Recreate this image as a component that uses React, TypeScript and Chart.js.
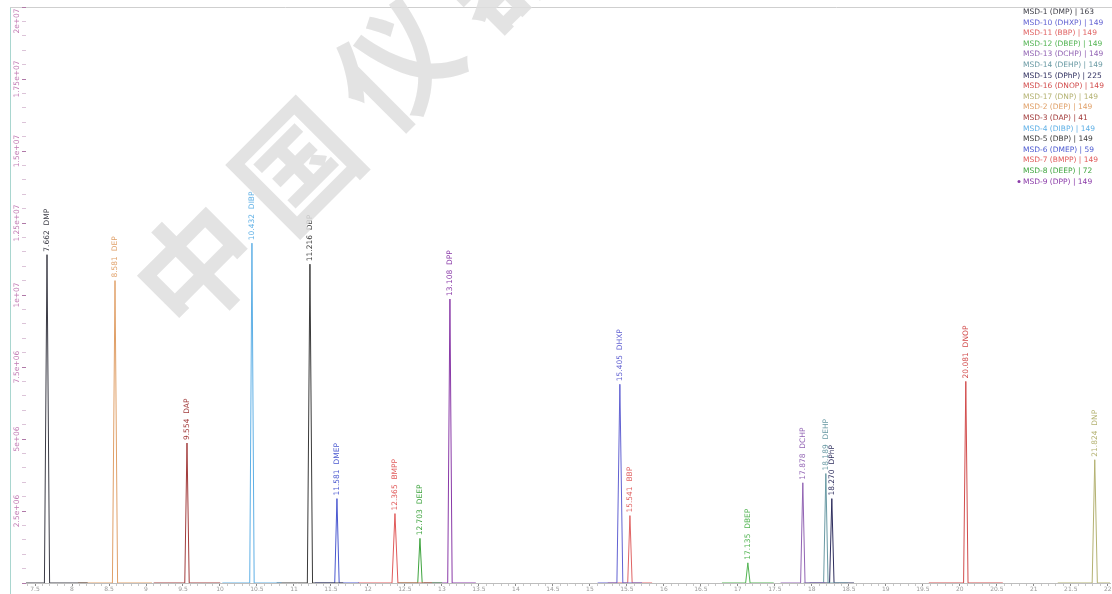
import React, { useEffect, useRef } from 'react';
import { Chart, registerables } from 'chart.js';

Chart.register(...registerables);

// ---- data ----
const compounds = ['DMP', 'DEP', 'DAP', 'DIBP', 'DBP', 'DMEP', 'BMPP', 'DEEP', 'DPP', 'DHXP', 'BBP', 'DBEP', 'DCHP', 'DEHP', 'DPhP', 'DNOP', 'DNP'];
const msdIds = [1, 2, 3, 4, 5, 6, 7, 8, 9, 10, 11, 12, 13, 14, 15, 16, 17];
const quantIons = [163, 149, 41, 149, 149, 59, 149, 72, 149, 149, 149, 149, 149, 149, 225, 149, 149];
const retentionTimes = [7.662, 8.581, 9.554, 10.432, 11.216, 11.581, 12.365, 12.703, 13.108, 15.405, 15.541, 17.135, 17.878, 18.189, 18.27, 20.081, 21.824];
const peakHeights = [11.4e6, 10.5e6, 4.86e6, 11.8e6, 11.07e6, 2.93e6, 2.41e6, 1.55e6, 9.86e6, 6.9e6, 2.34e6, 0.7e6, 3.48e6, 3.8e6, 2.93e6, 7.0e6, 4.28e6];
const peakHalfWidth = [0.035, 0.035, 0.03, 0.03, 0.035, 0.03, 0.04, 0.03, 0.03, 0.04, 0.03, 0.03, 0.03, 0.03, 0.03, 0.03, 0.035];
const traceWindow = [0.55, 0.5, 0.45, 0.4, 0.45, 0.3, 0.5, 0.3, 0.35, 0.3, 0.3, 0.35, 0.3, 0.3, 0.3, 0.5, 0.5];
const seriesColors = ['#3c3c46', '#e0a068', '#a23c3c', '#5fb0e6', '#3a3a3a', '#4a58d0', '#e05a5a', '#3fa43f', '#8a3aa8', '#6262d2', '#e06464', '#52b452', '#9264b4', '#6a9aa4', '#2e2e5e', '#d24c4c', '#b4b272'];

const xTickLabelStep = 0.5;
const xMinorStep = 0.1;
const xMin = 7.378;
const xMax = 22.03;
const yMax = 2e7;
const yMinorStep = 5e5;
const yTickValues = [2.5e6, 5e6, 7.5e6, 1e7, 1.25e7, 1.5e7, 1.75e7, 2e7];
const yTickLabels = ['2.5e+06', '5e+06', '7.5e+06', '1e+07', '1.25e+07', '1.5e+07', '1.75e+07', '2e+07'];
const watermarkChars = ['中', '国', '仪', '器'];

export default function App() {
  const canvasRef = useRef<HTMLCanvasElement | null>(null);

  useEffect(() => {
    document.body.style.margin = '0';
    const canvas = canvasRef.current;
    if (!canvas) return;

    const datasets = compounds.map((name, i) => {
      const rt = retentionTimes[i];
      const hw = peakHalfWidth[i];
      const win = traceWindow[i];
      return {
        label: `MSD-${msdIds[i]} (${name}) | ${quantIons[i]}`,
        data: [
          { x: rt - win, y: 0 },
          { x: rt - hw, y: 0 },
          { x: rt, y: peakHeights[i] },
          { x: rt + hw, y: 0 },
          { x: rt + win, y: 0 },
        ],
        borderColor: seriesColors[i],
        backgroundColor: seriesColors[i],
        borderWidth: 1,
        pointRadius: 0,
        tension: 0,
        fill: false,
      };
    });

    const decorPlugin = {
      id: 'decor',
      beforeDraw(chart: any) {
        const { ctx, chartArea } = chart;
        ctx.save();
        ctx.fillStyle = '#ffffff';
        ctx.fillRect(0, 0, chart.width, chart.height);
        ctx.strokeStyle = '#a9d6cf';
        ctx.lineWidth = 1;
        ctx.beginPath();
        ctx.moveTo(10.5, chartArea.top);
        ctx.lineTo(10.5, chart.height);
        ctx.stroke();
        ctx.strokeStyle = '#cfcfcf';
        ctx.beginPath();
        ctx.moveTo(10, chartArea.top + 0.5);
        ctx.lineTo(chart.width, chartArea.top + 0.5);
        ctx.stroke();
        ctx.restore();
      },
      afterDatasetsDraw(chart: any) {
        const { ctx } = chart;
        const xs = chart.scales.x;
        const ys = chart.scales.y;
        ctx.save();
        // y tick labels (rotated)
        ctx.font = '7.5px "DejaVu Sans", sans-serif';
        ctx.fillStyle = '#c27cb4';
        ctx.textAlign = 'center';
        ctx.textBaseline = 'middle';
        yTickValues.forEach((v, i) => {
          let y = ys.getPixelForValue(v);
          if (i === yTickValues.length - 1) y += 14;
          ctx.save();
          ctx.translate(17, y);
          ctx.rotate(-Math.PI / 2);
          ctx.fillText(yTickLabels[i], 0, 0);
          ctx.restore();
        });
        // peak labels
        ctx.font = '7.5px "DejaVu Sans", sans-serif';
        ctx.textAlign = 'left';
        ctx.textBaseline = 'middle';
        compounds.forEach((name, i) => {
          const x = xs.getPixelForValue(retentionTimes[i]);
          const y = ys.getPixelForValue(peakHeights[i]) - 3;
          ctx.save();
          ctx.translate(x, y);
          ctx.rotate(-Math.PI / 2);
          ctx.fillStyle = seriesColors[i];
          ctx.fillText(`${retentionTimes[i].toFixed(3)}  ${name}`, 0, 0);
          ctx.restore();
        });
        // legend
        const order = msdIds.map((id, i) => i).sort((a, b) => (`MSD-${msdIds[a]}` < `MSD-${msdIds[b]}` ? -1 : 1));
        ctx.font = '7.5px "DejaVu Sans", sans-serif';
        ctx.textBaseline = 'middle';
        order.forEach((idx, k) => {
          const y = 12 + k * 10.6;
          ctx.fillStyle = seriesColors[idx];
          ctx.fillText(`MSD-${msdIds[idx]} (${compounds[idx]}) | ${quantIons[idx]}`, 1023, y);
          if (k === order.length - 1) {
            ctx.beginPath();
            ctx.arc(1019, y, 1.5, 0, Math.PI * 2);
            ctx.fill();
          }
        });
        ctx.restore();
      },
      afterDraw(chart: any) {
        const { ctx } = chart;
        ctx.save();
        ctx.translate(196, 266);
        ctx.rotate(-Math.PI / 4);
        ctx.fillStyle = 'rgba(222,222,222,0.85)';
        ctx.font = '600 118px "Noto Sans CJK SC", sans-serif';
        ctx.textAlign = 'center';
        ctx.textBaseline = 'middle';
        watermarkChars.forEach((ch, i) => {
          ctx.fillText(ch, i * 142, 0);
        });
        ctx.restore();
      },
    };

    const isMajorX = (v: number) => Math.abs(v / xTickLabelStep - Math.round(v / xTickLabelStep)) < 1e-6;
    const isMajorY = (v: number) => Math.abs(v / 2.5e6 - Math.round(v / 2.5e6)) < 1e-6;

    const chart = new Chart(canvas, {
      type: 'line',
      data: { datasets },
      options: {
        animation: false,
        responsive: false,
        maintainAspectRatio: false,
        layout: { padding: { top: 7, right: 2, left: 0, bottom: 0 } },
        plugins: {
          legend: { display: false },
          tooltip: { enabled: false },
          title: { display: false },
        },
        scales: {
          x: {
            type: 'linear',
            min: xMin,
            max: xMax,
            afterFit: (s: any) => { s.height = 11; },
            border: { display: true, color: '#bdbdbd' },
            grid: {
              drawOnChartArea: false,
              drawTicks: true,
              tickLength: 3,
              tickColor: (c: any) => (c.tick && isMajorX(c.tick.value) ? '#8a8a8a' : '#c8c8c8'),
            },
            ticks: {
              stepSize: xMinorStep,
              includeBounds: false,
              autoSkip: false,
              maxRotation: 0,
              minRotation: 0,
              padding: 0,
              color: '#9a9a9a',
              font: { size: 6, family: 'DejaVu Sans' },
              callback: (v: any) => {
                const n = Number(v);
                return isMajorX(n) ? String(Math.round(n * 10) / 10) : '';
              },
            },
          },
          y: {
            type: 'linear',
            min: 0,
            max: yMax,
            afterFit: (s: any) => { s.width = 26; },
            border: { display: false },
            grid: {
              drawOnChartArea: false,
              drawTicks: true,
              tickLength: 4,
              tickColor: (c: any) => (c.tick && isMajorY(c.tick.value) ? '#b07aa8' : '#dcc4d8'),
            },
            ticks: {
              stepSize: yMinorStep,
              autoSkip: false,
              display: true,
              color: 'rgba(0,0,0,0)',
              font: { size: 1 },
              callback: () => '',
            },
          },
        },
      },
      plugins: [decorPlugin],
    } as any);

    return () => chart.destroy();
  }, []);

  return (
    <div style={{ position: 'fixed', left: 0, top: 0, width: 1112, height: 594, background: '#fff' }}>
      <canvas ref={canvasRef} width={1112} height={594} style={{ width: 1112, height: 594, display: 'block' }} />
    </div>
  );
}
